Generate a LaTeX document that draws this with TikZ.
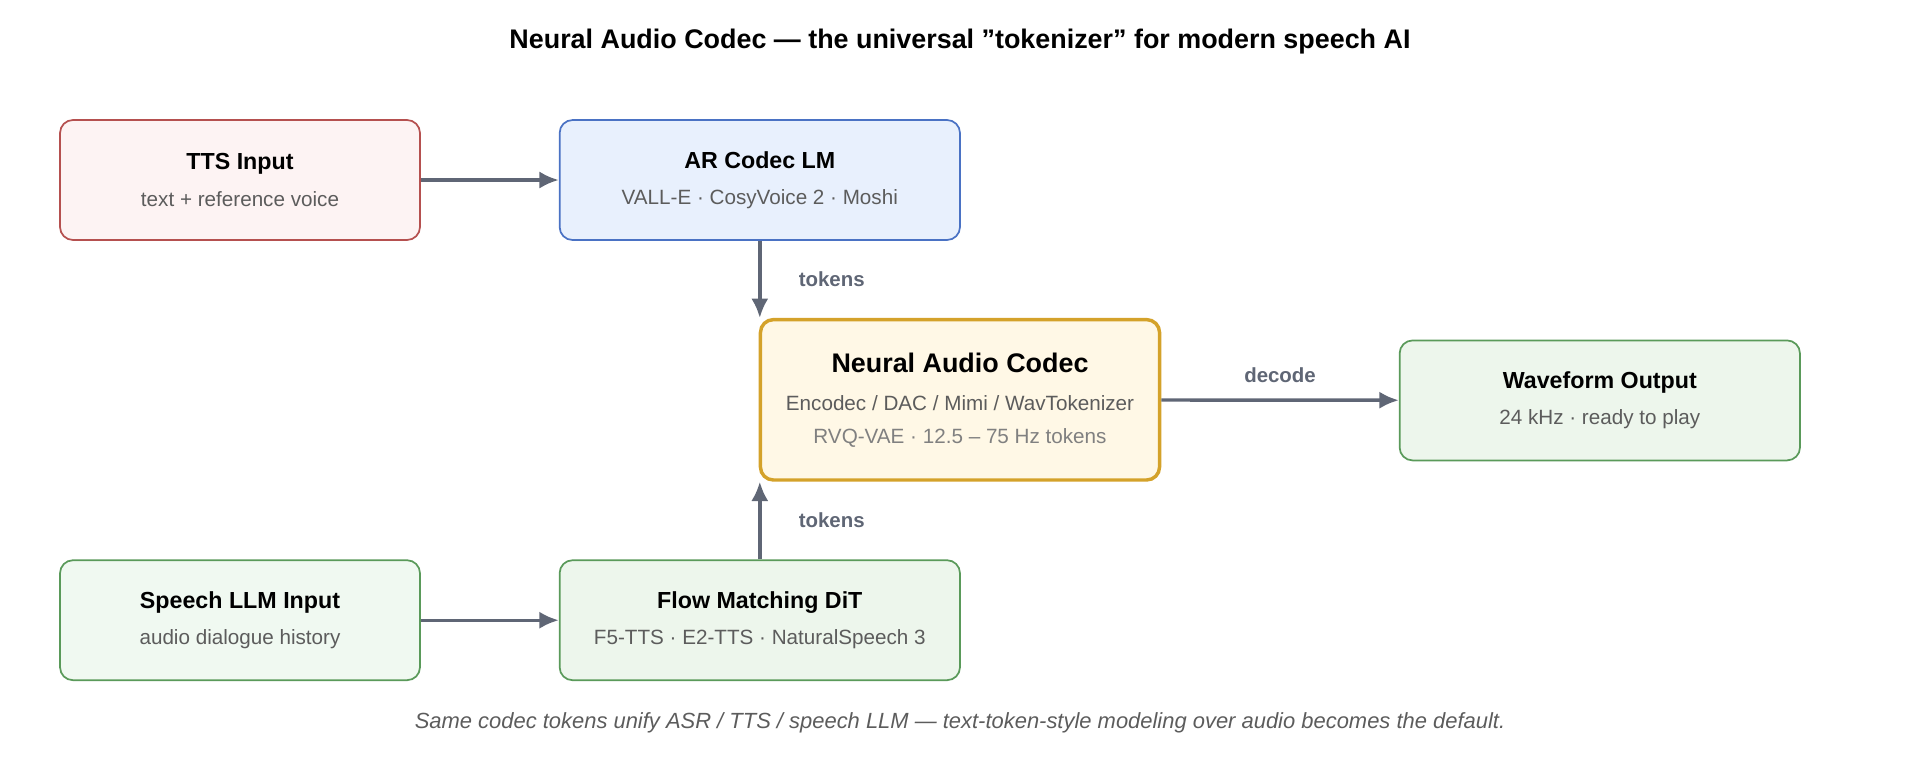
\documentclass[tikz,border=0pt]{standalone}
\usepackage{fontspec}
\setmainfont{Liberation Sans}
\usetikzlibrary{positioning,arrows.meta}
\definecolor{arrowgray}{HTML}{5F6675}
\definecolor{subgray}{HTML}{5C5C5C}
\definecolor{ttsfill}{HTML}{FDF3F3}\definecolor{ttsdraw}{HTML}{B5504F}
\definecolor{arfill}{HTML}{E8F0FD}\definecolor{ardraw}{HTML}{4A72C4}
\definecolor{codecfill}{HTML}{FFF8E6}\definecolor{codecdraw}{HTML}{D4A22A}
\definecolor{greenfill}{HTML}{EDF6EC}\definecolor{greendraw}{HTML}{5A9A5A}
\definecolor{lgreenfill}{HTML}{F0F9F1}
\tikzset{box/.style = {draw, rounded corners=6pt, line width=0.8pt, align=center, minimum height=1.96cm, inner sep=0pt}}
\tikzset{small/.style = {box, minimum width=5.88cm}}
\tikzset{wide/.style = {box, minimum width=6.54cm}}
\tikzset{flow/.style = {->, line width=1.6pt, arrowgray}}
\tikzset{lbl/.style = {font=\bfseries\fontsize{9.5}{11}\selectfont, text=arrowgray}}
\newcommand{\boxtext}[2]{{\bfseries\fontsize{10.8}{13}\selectfont #1}\\[5pt]{\fontsize{9.6}{12}\selectfont\color{subgray}#2}}

\begin{document}
\begin{tikzpicture}[x=0.02cm, y=-0.02cm, >={Latex[length=9pt,width=8pt]}]
  \useasboundingbox (0,0) rectangle (1568,620);
  \node [font=\bfseries\fontsize{12.5}{15}\selectfont] (title) at (784,34) {Neural Audio Codec — the universal "tokenizer" for modern speech AI};

  \node [small, fill=ttsfill, draw=ttsdraw] (tts) at (196,147) {\boxtext{TTS Input}{text + reference voice}};
  \node [wide, fill=arfill, draw=ardraw] (arlm) at (620.5,147) {\boxtext{AR Codec LM}{VALL-E · CosyVoice 2 · Moshi}};
  \node [box, minimum width=6.52cm, minimum height=2.62cm, line width=1.6pt, fill=codecfill, draw=codecdraw] (codec) at (784,326.5)
    {{\bfseries\fontsize{12.5}{15}\selectfont Neural Audio Codec}\\[6pt]{\fontsize{9.6}{12}\selectfont\color{subgray}Encodec / DAC / Mimi / WavTokenizer}\\[3pt]{\fontsize{9.6}{12}\selectfont\color{gray}RVQ-VAE · 12.5 – 75 Hz tokens}};
  \node [wide, fill=greenfill, draw=greendraw] (wave) at (1306.5,327) {\boxtext{Waveform Output}{24 kHz · ready to play}};
  \node [small, fill=lgreenfill, draw=greendraw] (speech) at (196,506.5) {\boxtext{Speech LLM Input}{audio dialogue history}};
  \node [wide, fill=greenfill, draw=greendraw] (fm) at (620.5,506.5) {\boxtext{Flow Matching DiT}{F5-TTS · E2-TTS · NaturalSpeech 3}};

  \draw [flow] (tts) -- (arlm);
  \draw [flow] (speech) -- (fm);
  \draw [flow] (arlm.south) -- (arlm.south |- codec.north) node [lbl, midway, right=14pt] {tokens};
  \draw [flow] (fm.north) -- (fm.north |- codec.south) node [lbl, midway, right=14pt] {tokens};
  \draw [flow] (codec) -- (wave) node [lbl, midway, above=4pt] {decode};

  \node [font=\itshape\fontsize{10.2}{12}\selectfont, text=subgray] (note) at (784,590) {Same codec tokens unify ASR / TTS / speech LLM — text-token-style modeling over audio becomes the default.};
\end{tikzpicture}
\end{document}
